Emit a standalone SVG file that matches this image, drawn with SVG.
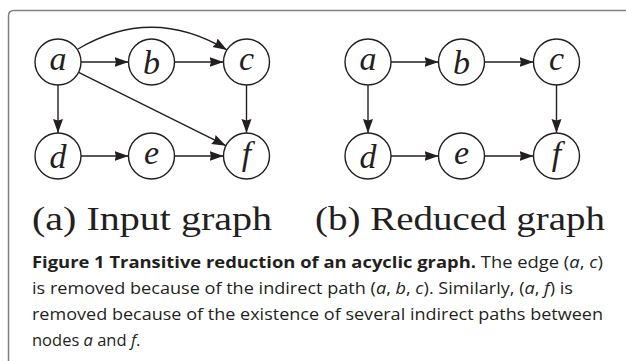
<svg xmlns="http://www.w3.org/2000/svg" width="626" height="361" viewBox="0 0 626 361">
<defs>
<marker id="arr" markerWidth="14" markerHeight="11" refX="14" refY="5.5" orient="auto" markerUnits="userSpaceOnUse">
<path d="M0,0.5 L14,5.5 L0,10.5 L1.5,5.5 z" fill="#231f20"/>
</marker>
<style>
.n circle{fill:#fff;stroke:#231f20;stroke-width:1.4}
.n text{font-family:"Liberation Serif",serif;font-style:italic;font-size:34px;fill:#231f20;text-anchor:middle}
.e{fill:none;stroke:#231f20;stroke-width:1.4;marker-end:url(#arr)}
.sub{font-family:"Liberation Serif",serif;font-size:33px;fill:#231f20}
.cap{font-family:"Open Sans","Liberation Sans",sans-serif;font-size:16.5px;fill:#231f20}
.cap .b{font-weight:bold}
.cap .i{font-style:italic}
</style>
</defs>
<rect width="626" height="361" fill="#fff"/>
<path d="M8.5,361 V16 Q8.5,10.5 14,10.5 H626" fill="none" stroke="#808080" stroke-width="1.5"/>

<g id="connectors">
<!-- left graph -->
<path class="e" d="M78,49 Q152,5 227,50"/>
<path class="e" d="M81,62 H128.5"/>
<path class="e" d="M174.5,62 H223.5"/>
<path class="e" d="M78.6,72.3 L225.9,145.7"/>
<path class="e" d="M58,85 V133"/>
<path class="e" d="M246.5,85 V133"/>
<path class="e" d="M81,156 H128.5"/>
<path class="e" d="M174.5,156 H223.5"/>
<!-- right graph -->
<path class="e" d="M391,62 H438.5"/>
<path class="e" d="M484.5,62 H533.5"/>
<path class="e" d="M368,85 V133"/>
<path class="e" d="M556.5,85 V133"/>
<path class="e" d="M391,156 H438.5"/>
<path class="e" d="M484.5,156 H533.5"/>
</g>

<g id="L-a" class="n"><circle cx="58" cy="62" r="23"/><text x="58" y="70">a</text></g>
<g id="L-b" class="n"><circle cx="151.5" cy="62" r="23"/><text x="151.5" y="74">b</text></g>
<g id="L-c" class="n"><circle cx="246.5" cy="62" r="23"/><text x="246.5" y="70">c</text></g>
<g id="L-d" class="n"><circle cx="58" cy="156" r="23"/><text x="58" y="168">d</text></g>
<g id="L-e" class="n"><circle cx="151.5" cy="156" r="23"/><text x="151.5" y="164">e</text></g>
<g id="L-f" class="n"><circle cx="246.5" cy="156" r="23"/><text x="246.5" y="165">f</text></g>

<g id="R-a" class="n"><circle cx="368" cy="62" r="23"/><text x="368" y="70">a</text></g>
<g id="R-b" class="n"><circle cx="461.5" cy="62" r="23"/><text x="461.5" y="74">b</text></g>
<g id="R-c" class="n"><circle cx="556.5" cy="62" r="23"/><text x="556.5" y="70">c</text></g>
<g id="R-d" class="n"><circle cx="368" cy="156" r="23"/><text x="368" y="168">d</text></g>
<g id="R-e" class="n"><circle cx="461.5" cy="156" r="23"/><text x="461.5" y="164">e</text></g>
<g id="R-f" class="n"><circle cx="556.5" cy="156" r="23"/><text x="556.5" y="165">f</text></g>

<text class="sub" x="32" y="230" textLength="240" lengthAdjust="spacingAndGlyphs">(a) Input graph</text>
<text class="sub" x="315" y="230" textLength="290" lengthAdjust="spacingAndGlyphs">(b) Reduced graph</text>

<text class="cap" x="32" y="268" textLength="571" lengthAdjust="spacingAndGlyphs"><tspan class="b">Figure 1 Transitive reduction of an acyclic graph.</tspan> The edge (<tspan class="i">a</tspan>, <tspan class="i">c</tspan>)</text>
<text class="cap" x="32" y="294" textLength="541" lengthAdjust="spacingAndGlyphs">is removed because of the indirect path (<tspan class="i">a</tspan>, <tspan class="i">b</tspan>, <tspan class="i">c</tspan>). Similarly, (<tspan class="i">a</tspan>, <tspan class="i">f</tspan>) is</text>
<text class="cap" x="32" y="320" textLength="571" lengthAdjust="spacingAndGlyphs">removed because of the existence of several indirect paths between</text>
<text class="cap" x="32" y="346">nodes <tspan class="i">a</tspan> and <tspan class="i">f</tspan>.</text>
</svg>
